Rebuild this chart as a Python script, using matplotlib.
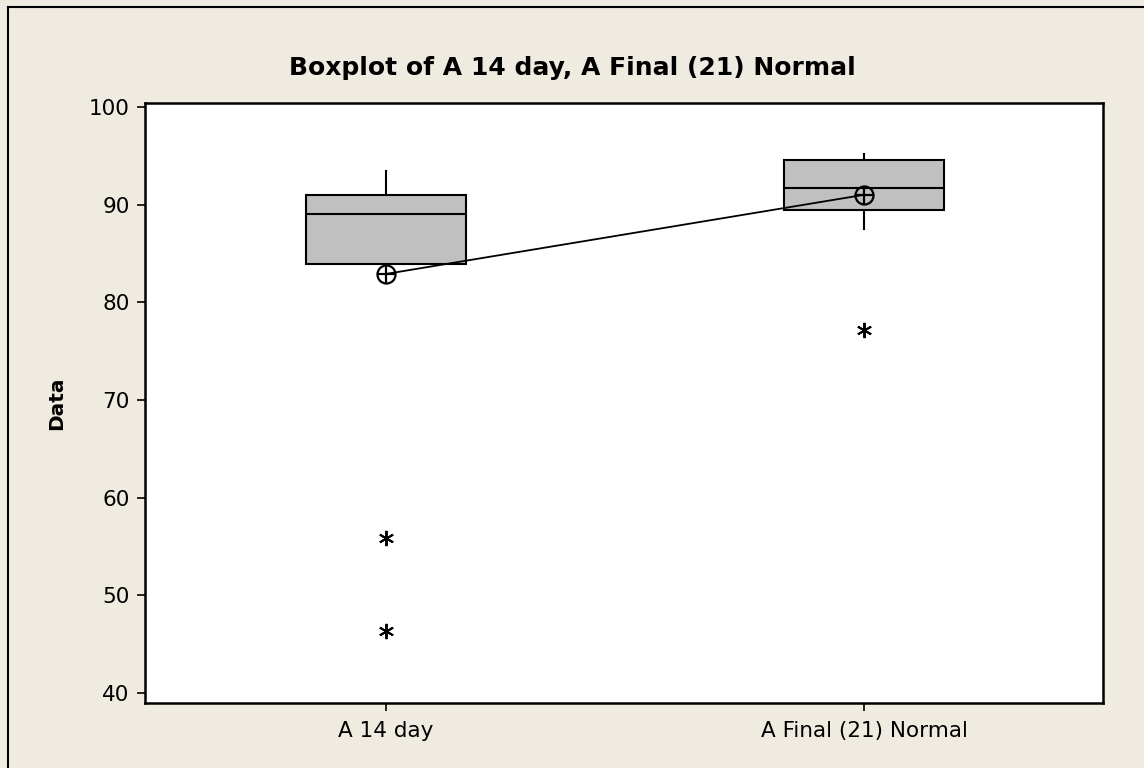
import matplotlib
matplotlib.use("Agg")
import matplotlib.pyplot as plt
from matplotlib.lines import Line2D

# values
groups = ["A 14 day", "A Final (21) Normal"]
q1 = [83.9, 89.4]
medians = [89.0, 91.7]
q3 = [91.0, 94.6]
whisker_low = [83.9, 87.5]
whisker_high = [93.4, 95.2]
means = [82.9, 91.0]
outliers = [[55.9, 46.4], [77.2]]

bg = "#EFEBE0"
plt.rcParams["font.family"] = ["DejaVu Sans"]

fig = plt.figure(figsize=(11.44, 7.68), dpi=100, facecolor=bg)
ax = fig.add_axes([0.1267, 0.0846, 0.8375, 0.7813])
ax.set_facecolor("white")

stats = []
for i, name in enumerate(groups):
    stats.append({
        "label": name,
        "q1": q1[i], "med": medians[i], "q3": q3[i],
        "whislo": whisker_low[i], "whishi": whisker_high[i],
        "fliers": outliers[i],
    })

positions = [1, 2]
ax.bxp(stats, positions=positions, widths=0.335, patch_artist=True,
       showcaps=False,
       boxprops=dict(facecolor="#C0C0C0", edgecolor="black", linewidth=1.5),
       medianprops=dict(color="black", linewidth=1.5),
       whiskerprops=dict(color="black", linewidth=1.5),
       flierprops=dict(marker=(6, 2, 0), markersize=11, markeredgecolor="black",
                       markeredgewidth=1.4, linestyle="none"),
       zorder=2)

# mean connect line with circle-plus symbols
ax.plot(positions, means, color="black", linewidth=1.3, zorder=3)
ax.plot(positions, means, "o", markersize=13, markerfacecolor="none",
        markeredgecolor="black", markeredgewidth=1.6, zorder=4)
ax.plot(positions, means, "+", markersize=13, markeredgecolor="black",
        markeredgewidth=1.6, zorder=4)

ax.set_xlim(0.496, 2.5)
ax.set_ylim(38.98, 100.4)
ax.set_yticks([40, 50, 60, 70, 80, 90, 100])
ax.set_xticks(positions)
ax.set_xticklabels(groups)
ax.tick_params(axis="both", direction="out", length=6, width=1.2, labelsize=15.5,
               colors="black", pad=5)
ax.tick_params(axis="x", pad=7)
for s in ax.spines.values():
    s.set_linewidth(1.8)
    s.set_color("black")

ax.set_ylabel("Data", fontsize=14.5, fontweight="bold")
ax.yaxis.set_label_coords(-0.082, 0.5)
fig.text(0.5, 0.912, "Boxplot of A 14 day, A Final (21) Normal",
         ha="center", va="center", fontsize=18, fontweight="bold")

# outer frame lines (top and left)
fig.add_artist(Line2D([8 / 1144, 8 / 1144], [0, 1 - 7 / 768], transform=fig.transFigure,
                      color="black", linewidth=1.5))
fig.add_artist(Line2D([8 / 1144, 1], [1 - 7 / 768, 1 - 7 / 768], transform=fig.transFigure,
                      color="black", linewidth=1.5))

fig.savefig("out.png", dpi=100, facecolor=bg)
